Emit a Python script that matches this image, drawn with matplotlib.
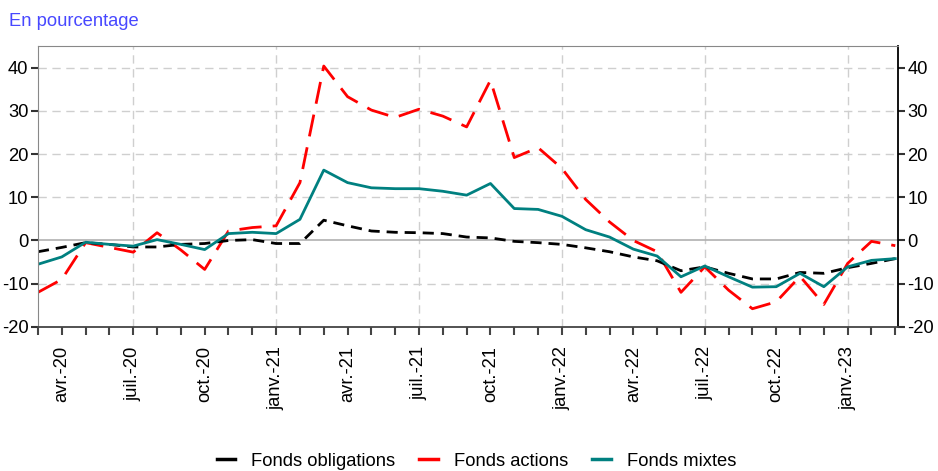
import numpy as np
import matplotlib
matplotlib.use("Agg")
import matplotlib.pyplot as plt
from matplotlib.lines import Line2D

plt.rcParams['font.family'] = ['Liberation Sans', 'DejaVu Sans']
plt.rcParams['axes.unicode_minus'] = False

# mois de mars-20 à mars-23
mois_noms = ['janv.', 'févr.', 'mars', 'avr.', 'mai', 'juin',
             'juil.', 'août', 'sept.', 'oct.', 'nov.', 'déc.']
mois = [(2020 + (m // 12), m % 12) for m in range(2, 2 + 37)]
labels = [f"{mois_noms[mm]}-{str(a)[2:]}" for a, mm in mois]

obligations = [-2.6, -1.6, -0.5, -0.9, -1.5, -1.5, -0.9, -0.7, 0.0, 0.2, -0.7, -0.7,
               4.7, 3.4, 2.2, 1.9, 1.8, 1.6, 0.8, 0.6, -0.2, -0.5, -0.9, -1.7,
               -2.6, -3.8, -4.7, -7.0, -6.1, -7.6, -8.9, -8.9, -7.4, -7.6, -6.3, -5.3, -4.2]
actions = [-12.0, -9.0, -0.5, -1.6, -2.7, 1.8, -2.2, -6.7, 2.2, 3.0, 3.4, 13.4,
           40.4, 33.3, 30.2, 28.5, 30.4, 28.8, 26.3, 37.1, 19.2, 21.5, 16.7, 9.5,
           4.3, 0.0, -2.6, -12.0, -6.1, -11.5, -15.8, -14.2, -8.3, -14.8, -5.3, -0.2, -1.2]
mixtes = [-5.5, -3.8, -0.4, -0.9, -1.3, 0.2, -0.9, -2.1, 1.6, 1.9, 1.6, 4.9,
          16.3, 13.4, 12.2, 12.0, 12.0, 11.4, 10.5, 13.2, 7.4, 7.2, 5.6, 2.5,
          0.8, -2.0, -3.6, -8.4, -5.9, -8.4, -10.8, -10.7, -7.6, -10.7, -6.1, -4.6, -4.2]

x = np.arange(len(labels))
fs = 13.2

fig = plt.figure(figsize=(9.38, 4.71), dpi=100)
ax = fig.add_axes([0.0405, 0.306, 0.9165, 0.596])

# grille
ax.set_ylim(-20, 45)
ax.set_xlim(x[0], x[-1] + 0.1)
for i, (a, mm) in enumerate(mois):
    if mm in (0, 6):
        ax.axvline(x[i], color='#cfcfcf', lw=1.0, ls=(0, (6, 4)), zorder=0)
for v in range(-10, 45, 10):
    if v != 0:
        ax.axhline(v, color='#cfcfcf', lw=1.0, ls=(0, (6, 4)), zorder=0)
ax.axhline(0, color='#b0b0b0', lw=1.2, zorder=0)

ax.plot(x, actions, color='#ff0000', lw=2.0, ls=(0, (8, 4)))
ax.plot(x, obligations, color='black', lw=2.0, ls=(0, (4, 2.5)))
ax.plot(x, mixtes, color='#008080', lw=2.0)

# axes
ax.set_yticks(range(-20, 41, 10))
ax.tick_params(axis='y', which='both', left=True, right=True, labelleft=True,
               labelright=True, direction='out', length=5, width=1.5,
               labelsize=fs, color='#333333', pad=2)
ax.set_xticks(x, minor=True)
maj = [i for i, (a, mm) in enumerate(mois) if mm % 3 == 0]
ax.set_xticks(x[maj])
ax.set_xticklabels([labels[i] for i in maj], rotation=90, fontsize=fs)
ax.tick_params(axis='x', which='both', direction='out', length=6, width=1.5,
               color='#444444', pad=8)

ax.spines['top'].set_color('#888888')
ax.spines['left'].set_color('#888888')
ax.spines['right'].set_color('black')
ax.spines['bottom'].set_color('#444444')
ax.spines['bottom'].set_linewidth(1.3)
ax.spines['right'].set_linewidth(1.3)

fig.text(0.0096, 1 - 22 / 471, 'En pourcentage', color='#4848ff',
         fontsize=fs, va='center', ha='left')

handles = [Line2D([], [], color='black', lw=2.5),
           Line2D([], [], color='#ff0000', lw=2.5),
           Line2D([], [], color='#008080', lw=2.5)]
fig.legend(handles, ['Fonds obligations', 'Fonds actions', 'Fonds mixtes'],
           loc='center', bbox_to_anchor=(0.508, 1 - 461 / 471), ncol=3,
           frameon=False, fontsize=fs, handlelength=1.0,
           handletextpad=0.9, columnspacing=1.3)

fig.savefig('out.png', dpi=100)
